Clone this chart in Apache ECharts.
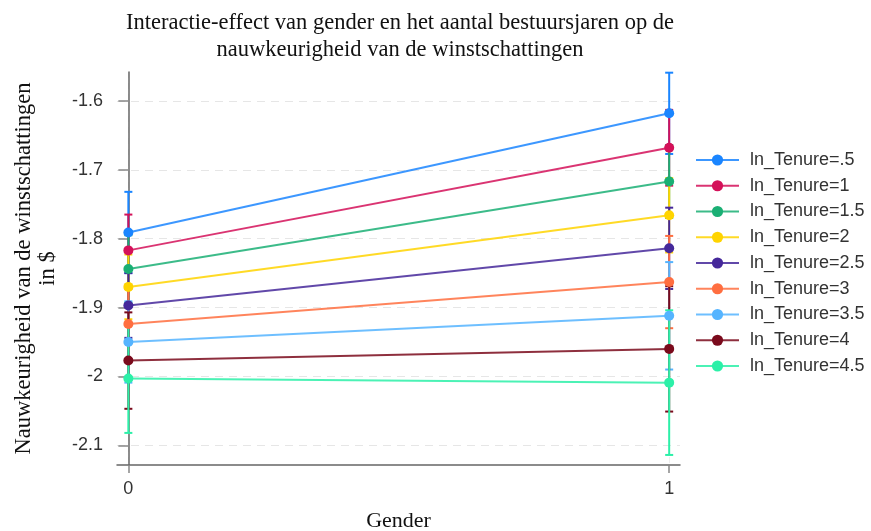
<!DOCTYPE html>
<html>
<head>
<meta charset="utf-8">
<script src="https://cdn.jsdelivr.net/npm/echarts@6/dist/echarts.min.js"></script>
<style>html,body{margin:0;padding:0;background:#fff}#c{width:871px;height:531px}</style>
</head>
<body>
<div id="c"></div>
<script>
// Categories (x values) and series labels
const gender = [0, 1];
const seriesNames = ['ln_Tenure=.5', 'ln_Tenure=1', 'ln_Tenure=1.5', 'ln_Tenure=2', 'ln_Tenure=2.5', 'ln_Tenure=3', 'ln_Tenure=3.5', 'ln_Tenure=4', 'ln_Tenure=4.5'];
// Predicted margins at Gender = 0 and Gender = 1 (one entry per ln_Tenure level)
const margin0 = [-1.791, -1.817, -1.844, -1.870, -1.897, -1.924, -1.950, -1.977, -2.003];
const margin1 = [-1.618, -1.668, -1.717, -1.766, -1.814, -1.863, -1.912, -1.960, -2.009];
// 95% CI bounds at Gender = 0
const lower0 = [-1.850, -1.869, -1.893, -1.917, -1.944, -1.975, -2.009, -2.047, -2.082];
const upper0 = [-1.732, -1.765, -1.795, -1.823, -1.850, -1.873, -1.891, -1.907, -1.924];
// 95% CI bounds at Gender = 1
const lower1 = [-1.677, -1.723, -1.770, -1.820, -1.873, -1.930, -1.990, -2.051, -2.114];
const upper1 = [-1.559, -1.613, -1.664, -1.712, -1.755, -1.796, -1.834, -1.869, -1.904];
// Tick labels
const yTicks = [-2.1, -2, -1.9, -1.8, -1.7, -1.6];
const xTicks = [0, 1];

const colors = ['#1a85ff', '#d41159', '#1aaf74', '#ffd400', '#45289a', '#ff6e40', '#55b4ff', '#7a0a1c', '#2cf0a8'];

const chart = echarts.init(document.getElementById('c'), null, {renderer: 'canvas'});

const series = [];
seriesNames.forEach((name, i) => {
  series.push({
    type: 'custom',
    name: name + ' CI',
    z: 1,
    silent: true,
    data: [
      [gender[0], lower0[i], upper0[i]],
      [gender[1], lower1[i], upper1[i]]
    ],
    encode: {x: 0, y: [1, 2]},
    renderItem: function (params, api) {
      const x = api.value(0);
      const lo = api.coord([x, api.value(1)]);
      const hi = api.coord([x, api.value(2)]);
      const w = 4;
      const st = {stroke: colors[i], lineWidth: 2};
      return {
        type: 'group',
        children: [
          {type: 'line', shape: {x1: lo[0], y1: lo[1], x2: hi[0], y2: hi[1]}, style: st},
          {type: 'line', shape: {x1: lo[0] - w, y1: lo[1], x2: lo[0] + w, y2: lo[1]}, style: st},
          {type: 'line', shape: {x1: hi[0] - w, y1: hi[1], x2: hi[0] + w, y2: hi[1]}, style: st}
        ]
      };
    }
  });
});
seriesNames.forEach((name, i) => {
  series.push({
    type: 'line',
    name: name,
    z: 3,
    data: [[gender[0], margin0[i]], [gender[1], margin1[i]]],
    symbol: 'circle',
    symbolSize: 10,
    lineStyle: {color: colors[i], width: 2, opacity: 0.85},
    itemStyle: {color: colors[i]},
    emphasis: {disabled: true},
    animation: false
  });
});

const option = {
  animation: false,
  backgroundColor: '#ffffff',
  color: colors,
  graphic: [{
    type: 'text',
    x: 400,
    y: 10,
    style: {
      text: 'Interactie-effect van gender en het aantal bestuursjaren op de\nnauwkeurigheid van de winstschattingen',
      font: '22.5px "Liberation Serif"',
      fill: '#111',
      textAlign: 'center',
      lineHeight: 27
    }
  }],
  grid: {left: 117, right: 191, top: 72, bottom: 66, containLabel: false, outerBoundsMode: 'none'},
  legend: {
    data: seriesNames,
    orient: 'vertical',
    left: 695,
    top: 151,
    padding: 0,
    itemWidth: 43,
    itemHeight: 14,
    itemGap: 7.75,
    textStyle: {fontFamily: 'Liberation Sans', fontSize: 18, color: '#333', padding: [0, 0, 0, 6]},
    selectedMode: false
  },
  xAxis: {
    type: 'value',
    min: -0.021,
    max: 1.02,
    name: 'Gender',
    nameLocation: 'middle',
    nameGap: 45,
    nameTextStyle: {fontFamily: 'Liberation Serif', fontSize: 22, color: '#111'},
    axisLine: {show: true, lineStyle: {color: '#666', width: 1.5}},
    axisTick: {show: true, length: 8, lineStyle: {color: '#888', width: 1.5}, customValues: xTicks},
    axisLabel: {customValues: xTicks, fontFamily: 'Liberation Sans', fontSize: 18, color: '#333', margin: 15},
    splitLine: {show: true, lineStyle: {color: '#eeeeee', type: [6, 5], width: 1}}
  },
  yAxis: {
    type: 'value',
    min: -2.1286,
    max: -1.558,
    name: 'Nauwkeurigheid van de winstschattingen\nin $',
    nameLocation: 'middle',
    nameRotate: 90,
    nameGap: 57,
    nameTextStyle: {fontFamily: 'Liberation Serif', fontSize: 22.5, color: '#111', lineHeight: 24},
    axisLine: {show: true, lineStyle: {color: '#666', width: 1.5}},
    axisTick: {show: true, length: 10, lineStyle: {color: '#888', width: 1.5}, customValues: yTicks},
    axisLabel: {customValues: yTicks, fontFamily: 'Liberation Sans', fontSize: 18, color: '#333', margin: 14,
      formatter: v => String(Math.round(v * 10) / 10)},
    splitLine: {show: true, lineStyle: {color: '#e6e6e6', type: [8, 6], width: 1}}
  },
  series: series
};
chart.setOption(option);
</script>
</body>
</html>
